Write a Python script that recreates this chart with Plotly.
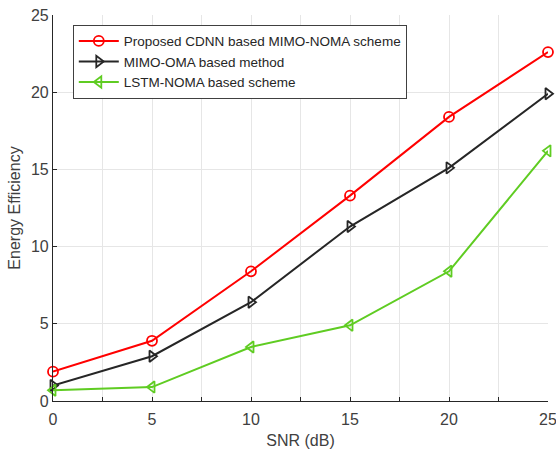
import plotly.graph_objects as go

snr = [0, 5, 10, 15, 20, 25]
cdnn_mimo_noma = [1.9, 3.9, 8.4, 13.3, 18.4, 22.6]
mimo_oma = [1.0, 2.9, 6.4, 11.3, 15.1, 19.9]
lstm_noma = [0.7, 0.9, 3.5, 4.9, 8.4, 16.2]

x_ticks = [0, 2.5, 5, 7.5, 10, 12.5, 15, 17.5, 20, 22.5, 25]
x_ticktext = ["0", "", "5", "", "10", "", "15", "", "20", "", "25"]
y_ticks = [0, 5, 10, 15, 20, 25]

series = [
    ("Proposed CDNN based MIMO-NOMA scheme", cdnn_mimo_noma, "#FF0000", "circle-open"),
    ("MIMO-OMA based method", mimo_oma, "#262626", "triangle-right-open"),
    ("LSTM-NOMA based scheme", lstm_noma, "#5FCC22", "triangle-left-open"),
]

fig = go.Figure()
for name, vals, color, sym in series:
    fig.add_trace(go.Scatter(
        x=snr, y=vals, name=name, mode="lines+markers",
        line=dict(color=color, width=2),
        marker=dict(symbol=sym, size=10, color=color, line=dict(width=1.8, color=color)),
        cliponaxis=False,
    ))

axis_font = dict(family="Liberation Sans, Arial, sans-serif", size=16, color="#404040")
fig.update_layout(
    width=556, height=452,
    margin=dict(l=53, r=8, t=15, b=51),
    paper_bgcolor="white", plot_bgcolor="white",
    font=dict(family="Liberation Sans, Arial, sans-serif", color="#262626"),
    showlegend=True,
    legend=dict(
        x=0.04, y=0.975, xanchor="left", yanchor="top",
        bgcolor="white", bordercolor="#404040", borderwidth=1,
        font=dict(size=13.5, color="#262626"),
        itemwidth=40, tracegroupgap=0,
    ),
    xaxis=dict(
        range=[0, 25], tickvals=x_ticks, ticktext=x_ticktext,
        automargin=False,
        showgrid=True, gridcolor="#E6E6E6", gridwidth=1,
        showline=True, linecolor="#262626", linewidth=1.2,
        ticks="inside", ticklen=4, tickcolor="#262626",
        tickfont=axis_font, zeroline=False, ticklabeloverflow="allow",
        ticklabelstandoff=4,
        title=dict(text="SNR (dB)", font=axis_font, standoff=7),
    ),
    yaxis=dict(
        range=[0, 25], tickvals=y_ticks,
        automargin=False,
        showgrid=True, gridcolor="#E6E6E6", gridwidth=1,
        showline=True, linecolor="#262626", linewidth=1.2,
        ticks="inside", ticklen=4, tickcolor="#262626",
        tickfont=axis_font, zeroline=False, ticklabeloverflow="allow",
        title=dict(text="Energy Efficiency", font=axis_font, standoff=6),
    ),
)

fig.write_html("out.html")
